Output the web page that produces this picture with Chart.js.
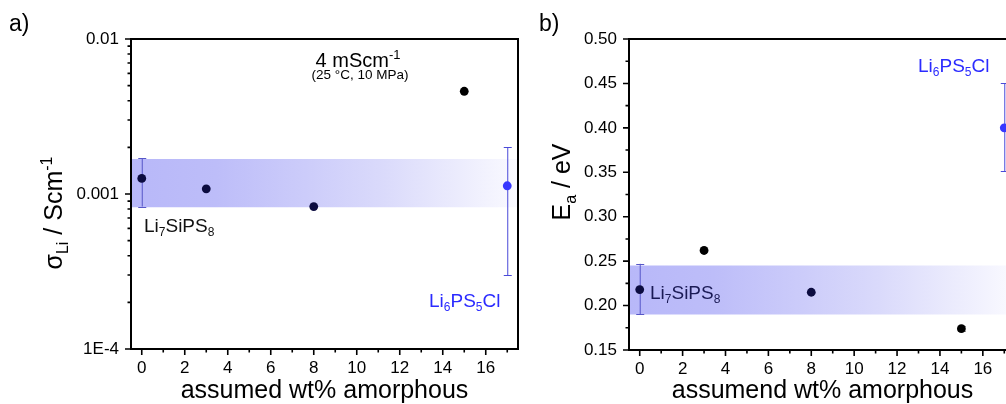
<!DOCTYPE html>
<html><head><meta charset="utf-8">
<script src="https://cdn.jsdelivr.net/npm/chart.js@4.4.0/dist/chart.umd.min.js"></script>
<style>
html,body{margin:0;padding:0;background:#fff;width:1006px;height:404px;overflow:hidden;position:relative;}
#wa{position:absolute;left:0;top:0;width:530px;height:404px;}
#wb{position:absolute;left:530px;top:0;width:500px;height:404px;}
</style></head><body>
<div id="wa"><canvas id="ca"></canvas></div>
<div id="wb"><canvas id="cb"></canvas></div>
<script>
// ---------- data ----------
const wtAmorphous = [0, 3, 8, 15];                 // assumed wt% amorphous (Li7SiPS8)
const sigmaLi7 = [1.26e-3, 1.08e-3, 8.3e-4, 4.6e-3]; // S/cm
const sigmaLi7ErrLow = [8.3e-4, null, null, null];
const sigmaLi7ErrHigh = [1.70e-3, null, null, null];
const eaLi7 = [0.218, 0.262, 0.215, 0.174];        // eV
const eaLi7ErrLow = [0.190, null, null, 0.171];
const eaLi7ErrHigh = [0.247, null, null, 0.177];

const refX = [17];                                 // Li6PS5Cl reference position
const sigmaLi6 = [1.13e-3];
const sigmaLi6ErrLow = [3.0e-4];
const sigmaLi6ErrHigh = [2.0e-3];
const eaLi6 = [0.400];
const eaLi6ErrLow = [0.351];
const eaLi6ErrHigh = [0.450];

const bandSigma = [8.2e-4, 1.68e-3];               // Li7SiPS8 range (low, high)
const bandEa = [0.190, 0.245];
const xRange = [-0.5, 17.5];

const xTicks = [0, 2, 4, 6, 8, 10, 12, 14, 16];
const xMinorTicks = [1, 3, 5, 7, 9, 11, 13, 15, 17];
const yTicksA = [1e-4, 1e-3, 1e-2];
const yTickLabelsA = ['1E-4', '0.001', '0.01'];
const yTicksB = [0.15, 0.20, 0.25, 0.30, 0.35, 0.40, 0.45, 0.50];
const yTickLabelsB = ['0.15', '0.20', '0.25', '0.30', '0.35', '0.40', '0.45', '0.50'];

// ---------- helpers ----------
const FAM = '"Liberation Sans", Arial, Helvetica, sans-serif';
function drawRich(ctx, parts, x, y, F, color, align, rot) {
  ctx.save();
  ctx.translate(x, y);
  if (rot) ctx.rotate(rot);
  const sF = Math.round(F * 0.64);
  let w = 0;
  const ws = parts.map(p => { ctx.font = (p[1] ? sF : F) + 'px ' + FAM; const m = ctx.measureText(p[0]).width; w += m; return m; });
  let cx = align === 'center' ? -w / 2 : 0;
  ctx.fillStyle = color; ctx.textBaseline = 'alphabetic'; ctx.textAlign = 'left';
  parts.forEach((p, i) => {
    ctx.font = (p[1] ? sF : F) + 'px ' + FAM;
    const dy = p[1] === 'sub' ? F * 0.22 : (p[1] === 'sup' ? -F * 0.42 : 0);
    ctx.fillText(p[0], cx, dy);
    cx += ws[i];
  });
  ctx.restore();
}
function bandGradient(c) {
  const ch = c.chart, ca = ch.chartArea;
  if (!ca) return 'rgba(0,0,0,0)';
  const g = ch.ctx.createLinearGradient(ca.left, 0, ca.right, 0);
  g.addColorStop(0, 'rgb(184,184,249)');
  g.addColorStop(0.22, 'rgb(189,189,249)');
  g.addColorStop(0.45, 'rgb(204,204,250)');
  g.addColorStop(0.65, 'rgb(218,218,251)');
  g.addColorStop(0.85, 'rgb(236,236,253)');
  g.addColorStop(1, 'rgb(250,250,255)');
  return g;
}

function makeChart(id, cfg) {
  const extraPlugin = {
    id: 'deco',
    beforeDatasetDraw(chart, args) {
      if (args.index !== 0) return;
      const ctx = chart.ctx, xs = chart.scales.x, ys = chart.scales.y;
      ctx.save();
      cfg.errors.forEach(e => {
        e.x.forEach((xv, i) => {
          if (e.lo[i] == null) return;
          const px = xs.getPixelForValue(xv);
          const p1 = ys.getPixelForValue(e.lo[i]), p2 = ys.getPixelForValue(e.hi[i]);
          ctx.strokeStyle = e.colors[i]; ctx.lineWidth = 1;
          ctx.beginPath();
          ctx.moveTo(px + 0.5, p1); ctx.lineTo(px + 0.5, p2);
          ctx.moveTo(px - 3.5, Math.round(p1) + 0.5); ctx.lineTo(px + 4.5, Math.round(p1) + 0.5);
          ctx.moveTo(px - 3.5, Math.round(p2) + 0.5); ctx.lineTo(px + 4.5, Math.round(p2) + 0.5);
          ctx.stroke();
        });
      });
      ctx.restore();
    },
    afterDraw(chart) {
      const ctx = chart.ctx, ca = chart.chartArea, xs = chart.scales.x, ys = chart.scales.y;
      ctx.save();
      ctx.strokeStyle = '#000';
      ctx.lineWidth = 2;
      ctx.strokeRect(ca.left, ca.top, ca.right - ca.left, ca.bottom - ca.top);
      ctx.lineWidth = 1.6;
      ctx.beginPath();
      xTicks.forEach(v => { const p = xs.getPixelForValue(v); ctx.moveTo(p, ca.bottom); ctx.lineTo(p, ca.bottom + 6); });
      xMinorTicks.forEach(v => { const p = xs.getPixelForValue(v); ctx.moveTo(p, ca.bottom); ctx.lineTo(p, ca.bottom + 3.5); });
      cfg.yMajor.forEach(v => { const p = ys.getPixelForValue(v); ctx.moveTo(ca.left, p); ctx.lineTo(ca.left - 6, p); });
      cfg.yMinor.forEach(v => { const p = ys.getPixelForValue(v); ctx.moveTo(ca.left, p); ctx.lineTo(ca.left - 3.5, p); });
      ctx.stroke();
      ctx.restore();
      cfg.texts.forEach(t => drawRich(ctx, t.parts, t.x, t.y, t.size, t.color, t.align, t.rot));
    }
  };
  return new Chart(document.getElementById(id), {
    type: 'line',
    data: {
      datasets: [
        { label: 'points', data: cfg.points, showLine: false, pointRadius: 4.4, pointBorderWidth: 0,
          pointBackgroundColor: cfg.pointColors, pointBorderColor: cfg.pointColors, clip: false },
        { label: 'bandHigh', data: [{x: xRange[0], y: cfg.band[1]}, {x: xRange[1], y: cfg.band[1]}],
          pointRadius: 0, borderWidth: 0, fill: false },
        { label: 'bandLow', data: [{x: xRange[0], y: cfg.band[0]}, {x: xRange[1], y: cfg.band[0]}],
          pointRadius: 0, borderWidth: 0, fill: '-1', backgroundColor: bandGradient }
      ]
    },
    options: {
      responsive: true, maintainAspectRatio: false, animation: false,
      layout: { padding: cfg.padding },
      plugins: { legend: { display: false }, tooltip: { enabled: false } },
      scales: {
        x: {
          type: 'linear', min: xRange[0], max: xRange[1],
          grid: { display: false, drawTicks: false }, border: { display: false },
          afterBuildTicks: s => { s.ticks = xTicks.map(v => ({ value: v })); },
          afterFit: s => { s.height = cfg.xHeight; },
          ticks: { font: { family: FAM, size: 17 }, color: '#000', padding: 9, maxRotation: 0,
                   callback: v => String(v) }
        },
        y: cfg.yScale
      }
    },
    plugins: [extraPlugin]
  });
}

// minor ticks for log axis
const logMinor = [];
[1e-4, 1e-3].forEach(d => { for (let k = 2; k <= 9; k++) logMinor.push(d * k); });
const linMinor = [];
yTicksB.slice(0, -1).forEach(v => linMinor.push(v + 0.025));

const navy = '#0c0c40';
const blue = '#3838ff';
const errCol = '#5656c8';

// ---------- chart a ----------
makeChart('ca', {
  padding: { top: 39, right: 12, left: 0, bottom: 0 },
  xHeight: 55,
  points: wtAmorphous.map((x, i) => ({ x, y: sigmaLi7[i] })).concat(refX.map((x, i) => ({ x, y: sigmaLi6[i] }))),
  pointColors: [navy, navy, navy, '#000', blue],
  band: bandSigma,
  errors: [
    { x: wtAmorphous, lo: sigmaLi7ErrLow, hi: sigmaLi7ErrHigh, colors: [errCol, errCol, errCol, '#777'] },
    { x: refX, lo: sigmaLi6ErrLow, hi: sigmaLi6ErrHigh, colors: ['#4a4ad8'] }
  ],
  yMajor: yTicksA, yMinor: logMinor,
  yScale: {
    type: 'logarithmic', min: 1e-4, max: 1e-2,
    grid: { display: false, drawTicks: false }, border: { display: false },
    afterBuildTicks: s => { s.ticks = yTicksA.map(v => ({ value: v })); },
    afterFit: s => { s.width = 131; },
    ticks: { font: { family: FAM, size: 17 }, color: '#000', padding: 12,
             callback: (v, i) => yTickLabelsA[i] }
  },
  texts: [
    { parts: [['a)']], x: 9, y: 31, size: 23, color: '#000' },
    { parts: [['4 mScm'], ['-1', 'sup']], x: 358, y: 67, size: 20, color: '#000', align: 'center' },
    { parts: [['(25 °C, 10 MPa)']], x: 360, y: 79, size: 13.5, color: '#000', align: 'center' },
    { parts: [['Li'], ['7', 'sub'], ['SiPS'], ['8', 'sub']], x: 144, y: 232, size: 19, color: '#111' },
    { parts: [['Li'], ['6', 'sub'], ['PS'], ['5', 'sub'], ['Cl']], x: 429, y: 307, size: 19, color: '#2b2bff' },
    { parts: [['σ'], ['Li', 'sub'], [' / Scm'], ['-1', 'sup']], x: 62, y: 213, size: 25, color: '#000', align: 'center', rot: -Math.PI / 2 },
    { parts: [['assumed wt% amorphous']], x: 324.5, y: 398, size: 25, color: '#000', align: 'center' }
  ]
});

// ---------- chart b ----------
makeChart('cb', {
  padding: { top: 39, right: 15, left: 0, bottom: 0 },
  xHeight: 54,
  points: wtAmorphous.map((x, i) => ({ x, y: eaLi7[i] })).concat(refX.map((x, i) => ({ x, y: eaLi6[i] }))),
  pointColors: [navy, '#000', navy, '#000', blue],
  band: bandEa,
  errors: [
    { x: wtAmorphous, lo: eaLi7ErrLow, hi: eaLi7ErrHigh, colors: [errCol, errCol, errCol, '#888'] },
    { x: refX, lo: eaLi6ErrLow, hi: eaLi6ErrHigh, colors: ['#4a4ad8'] }
  ],
  yMajor: yTicksB, yMinor: linMinor,
  yScale: {
    type: 'linear', min: 0.15, max: 0.50,
    grid: { display: false, drawTicks: false }, border: { display: false },
    afterBuildTicks: s => { s.ticks = yTicksB.map(v => ({ value: v })); },
    afterFit: s => { s.width = 99; },
    ticks: { font: { family: FAM, size: 17 }, color: '#000', padding: 12,
             callback: (v, i) => yTickLabelsB[i] }
  },
  texts: [
    { parts: [['b)']], x: 9, y: 31, size: 23, color: '#000' },
    { parts: [['Li'], ['7', 'sub'], ['SiPS'], ['8', 'sub']], x: 120, y: 299, size: 19, color: '#1a1a55' },
    { parts: [['Li'], ['6', 'sub'], ['PS'], ['5', 'sub'], ['Cl']], x: 388, y: 72, size: 19, color: '#2b2bff' },
    { parts: [['E'], ['a', 'sub'], [' / eV']], x: 40, y: 182, size: 25, color: '#000', align: 'center', rot: -Math.PI / 2 },
    { parts: [['assumend wt% amorphous']], x: 292.5, y: 398, size: 25, color: '#000', align: 'center' }
  ]
});
</script>
</body></html>
